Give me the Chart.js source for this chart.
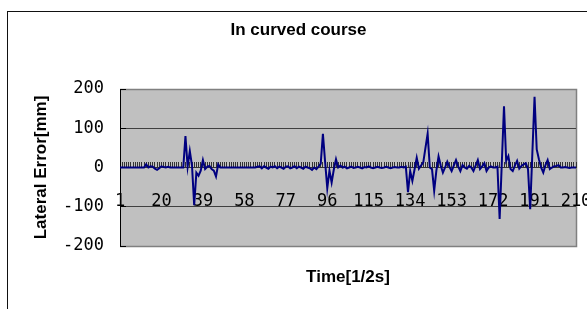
<!DOCTYPE html>
<html>
<head>
<meta charset="utf-8">
<script src="https://cdn.jsdelivr.net/npm/chart.js"></script>
<style>
  body { margin: 0; background: #fff; }
  #wrap { position: relative; width: 587px; height: 309px; overflow: hidden; }
  #frame { position: absolute; left: 7px; top: 11px; width: 620px; height: 400px; border: 1px solid #111; }
  canvas { position: absolute; left: 0; top: 0; }
</style>
</head>
<body>
<div id="wrap">
  <canvas id="lateral-chart" width="587" height="309"></canvas>
  <div id="frame"></div>
</div>
<script>
// lateral error per half second (index 1..210)
var lateralError = [
  0, 0, 0, 0, 0, 0, 0, 0, 0, 0,
  0, 0, 8, 0, 3, 2, -3, -6, -2, 3,
  1, 0, 2, 0, 0, 0, 0, 0, 0, 0,
  80, 2, 42, 5, -96, -13, -21, -8, 19, -4,
  2, 4, -4, -8, -23, 8, 0, 0, 0, 0,
  0, 0, 0, 0, 0, 0, 0, 0, 0, 0,
  0, 0, 0, 2, 3, -2, 3, 0, -3, 2,
  0, 3, -2, 2, 0, -3, 2, 3, -2, 0,
  3, -2, 2, 0, -3, 2, 0, -2, -6, 0,
  -4, 2, 10, 86, 15, -53, -8, -38, -5, 21,
  0, 5, 0, 2, -2, 0, 2, -1, 0, 2,
  0, -2, 1, 0, 3, 0, -2, 0, 2, 0,
  -1, 0, 2, 0, -2, 0, 1, 0, 0, 2,
  0, 2, -63, -9, -34, -5, 25, -3, 5, 13,
  50, 86, 0, -4, -59, -8, 28, 5, -13, 0,
  15, 2, -9, 5, 19, 3, -9, 6, 0, -3,
  4, 0, -9, 5, 19, -4, 3, 11, -9, 0,
  3, 0, 0, 2, -131, 12, 156, 17, 29, -4,
  -9, 5, 17, -3, 4, 8, 11, -4, -106, 37,
  180, 46, 21, 0, -13, 6, 19, -4, 0, 3,
  4, 6, 0, 0, 1, 0, -1, 0, 0, 0
];
var timeLabels = lateralError.map(function (v, i) { return String(i + 1); });
var xTickLabels = ['1', '20', '39', '58', '77', '96', '115', '134', '153', '172', '191', '210'];
var yTicks = [-200, -100, 0, 100, 200];

// grey plot area like the old spreadsheet charts
var plotArea = {
  id: 'plotArea',
  beforeDraw: function (chart) {
    var a = chart.chartArea, c = chart.ctx;
    c.save();
    c.fillStyle = '#c0c0c0';
    c.fillRect(a.left, a.top, a.right - a.left, a.bottom - a.top);
    c.strokeStyle = '#808080';
    c.lineWidth = 1.5;
    c.beginPath();
    c.moveTo(a.left, a.top + 0.5);
    c.lineTo(a.right + 0.5, a.top + 0.5);
    c.lineTo(a.right + 0.5, a.bottom + 0.5);
    c.lineTo(a.left, a.bottom + 0.5);
    c.stroke();
    c.restore();
  }
};

var tickFont = { family: 'DejaVu Sans Mono', size: 17 };
var titleFont = { family: 'Liberation Sans', size: 17, weight: 'bold' };

var ctx = document.getElementById('lateral-chart');
var chart = new Chart(ctx, {
  type: 'line',
  data: {
    labels: timeLabels,
    datasets: [{
      data: lateralError,
      borderColor: '#000080',
      borderWidth: 2,
      pointRadius: 0,
      tension: 0,
      fill: false
    }]
  },
  plugins: [plotArea],
  options: {
    responsive: false,
    animation: false,
    layout: { padding: { left: 21, right: 11, top: 0, bottom: 0 } },
    plugins: {
      legend: { display: false },
      tooltip: { enabled: false },
      title: {
        display: true,
        text: 'In curved course',
        color: '#000',
        font: titleFont,
        padding: { top: 20, bottom: 48.6 }
      },
      subtitle: {
        display: true,
        position: 'bottom',
        fullSize: false,
        text: 'Time[1/2s]',
        color: '#000',
        font: titleFont,
        padding: { top: 20.8, bottom: 21.8 }
      }
    },
    scales: {
      x: {
        position: { y: 0 },
        offset: false,
        border: { color: '#333', width: 1 },
        grid: { drawOnChartArea: false, drawTicks: true, tickLength: -6, tickColor: '#333', tickWidth: 1 },
        ticks: {
          autoSkip: false,
          maxRotation: 0,
          padding: 30,
          color: '#000',
          font: tickFont,
          callback: function (v) {
            var s = this.getLabelForValue(v);
            return xTickLabels.indexOf(s) >= 0 ? s : '';
          }
        },
        afterFit: function (s) { s.paddingLeft = 0; s.paddingRight = 0; }
      },
      y: {
        min: -200,
        max: 200,
        afterBuildTicks: function (s) { s.ticks = yTicks.map(function (v) { return { value: v }; }); },
        border: { color: '#000', width: 1 },
        grid: {
          drawTicks: true,
          tickLength: -6,
          tickColor: '#000',
          color: function (c) {
            var v = c.tick && c.tick.value;
            return (v === 100 || v === -100) ? '#404040' : 'rgba(0,0,0,0)';
          }
        },
        ticks: { padding: 22, color: '#000', font: tickFont },
        title: {
          display: true,
          text: 'Lateral Error[mm]',
          color: '#000',
          font: titleFont,
          padding: { top: 9.8, bottom: 0 }
        },
        afterFit: function (s) { s.width = 99; }
      }
    }
  }
});
</script>
</body>
</html>
